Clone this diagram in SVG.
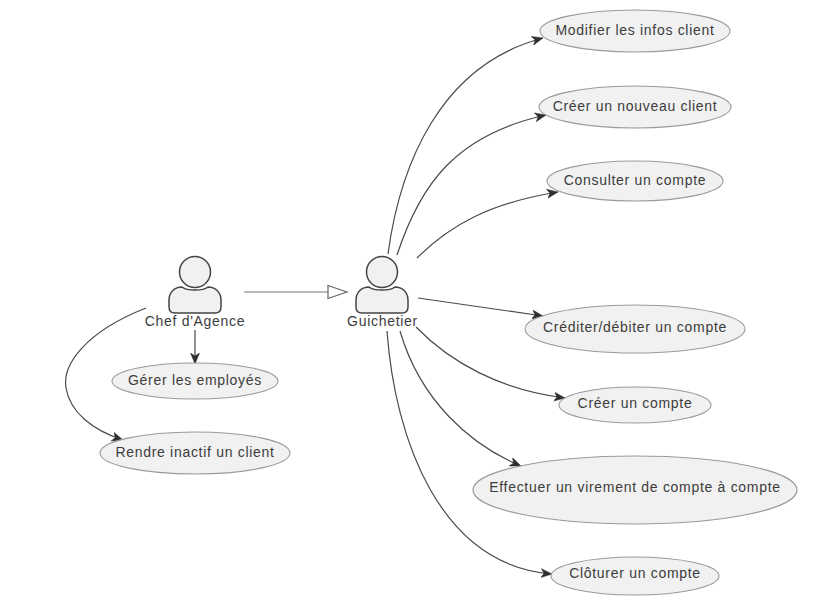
<svg xmlns="http://www.w3.org/2000/svg" width="817" height="613" viewBox="0 0 817 613">
<defs>
<marker id="arr" markerUnits="userSpaceOnUse" markerWidth="14" markerHeight="12" refX="11" refY="5" orient="auto"><path d="M0,0.5 L11,5 L0,9.5 L3,5 Z" fill="#2f2f2f" stroke="#2f2f2f" stroke-width="0.5"/></marker>
<marker id="tri" markerUnits="userSpaceOnUse" markerWidth="22" markerHeight="16" refX="20" refY="8" orient="auto"><path d="M1,1.5 L20,8 L1,14.500 Z" fill="#fff" stroke="#666" stroke-width="1.2"/></marker>
<path id="body" d="M-13,15 C-20,15 -26,20 -26,28 V35 C-26,39 -24,41 -20,41 H20 C24,41 26,39 26,35 V28 C26,20 20,15 13,15 C8,19 -8,19 -13,15 Z"/>
</defs>
<style>
text{font-family:"Liberation Sans",Arial,sans-serif;font-size:14px;fill:#3c3c3c;text-anchor:middle;letter-spacing:.7px}
.u ellipse{fill:#f1f1f1;stroke:#9a9a9a;stroke-width:1.1}
.a circle,.a use{fill:#f1f1f1;stroke:#444;stroke-width:1.5}
.c path{fill:none;stroke:#4a4a4a;stroke-width:1.2;marker-end:url(#arr)}
.c path.g{stroke:#777;marker-end:url(#tri)}
</style>
<rect width="817" height="613" fill="#fff"/>
<g class="c" id="connectors">
<path class="g" d="M244,292 H347"/>
<path d="M195,330 V364"/>
<path d="M146,308 C85,332 62,365 66,388 C70,412 92,430 123,440"/>
<path d="M388,254 C400,165 440,65 543,38"/>
<path d="M397,255 C420,185 455,135 546,115"/>
<path d="M417,258 C450,225 490,203 558,192"/>
<path d="M418,298 L543,316"/>
<path d="M416,327 C450,362 500,390 565,398"/>
<path d="M400,331 C420,400 470,445 521,466"/>
<path d="M387,331 C395,440 440,565 552,574"/>
</g>
<g class="a" id="actor-chef"><circle cx="195" cy="272" r="15.5"/><use href="#body" x="195" y="272"/><text x="195" y="326">Chef d'Agence</text></g>
<g class="a" id="actor-guichetier"><circle cx="382" cy="272" r="15.5"/><use href="#body" x="382" y="272"/><text x="382.5" y="326">Guichetier</text></g>
<g class="u" id="uc-gerer"><ellipse cx="195" cy="381" rx="83" ry="18"/><text x="195" y="385">Gérer les employés</text></g>
<g class="u" id="uc-inactif"><ellipse cx="195" cy="453" rx="95" ry="21"/><text x="195" y="457">Rendre inactif un client</text></g>
<g class="u" id="uc-modifier"><ellipse cx="635" cy="31" rx="95" ry="21"/><text x="635" y="35">Modifier les infos client</text></g>
<g class="u" id="uc-creer-client"><ellipse cx="635" cy="107" rx="96" ry="21"/><text x="635" y="111">Créer un nouveau client</text></g>
<g class="u" id="uc-consulter"><ellipse cx="635" cy="181" rx="88" ry="20"/><text x="635" y="185">Consulter un compte</text></g>
<g class="u" id="uc-crediter"><ellipse cx="635" cy="329" rx="110" ry="24"/><text x="635" y="332">Créditer/débiter un compte</text></g>
<g class="u" id="uc-creer-compte"><ellipse cx="635" cy="405" rx="76" ry="18"/><text x="635" y="408">Créer un compte</text></g>
<g class="u" id="uc-virement"><ellipse cx="635" cy="490" rx="162" ry="34"/><text x="635" y="492">Effectuer un virement de compte à compte</text></g>
<g class="u" id="uc-cloturer"><ellipse cx="635" cy="576" rx="84" ry="19"/><text x="635" y="578">Clôturer un compte</text></g>
</svg>
